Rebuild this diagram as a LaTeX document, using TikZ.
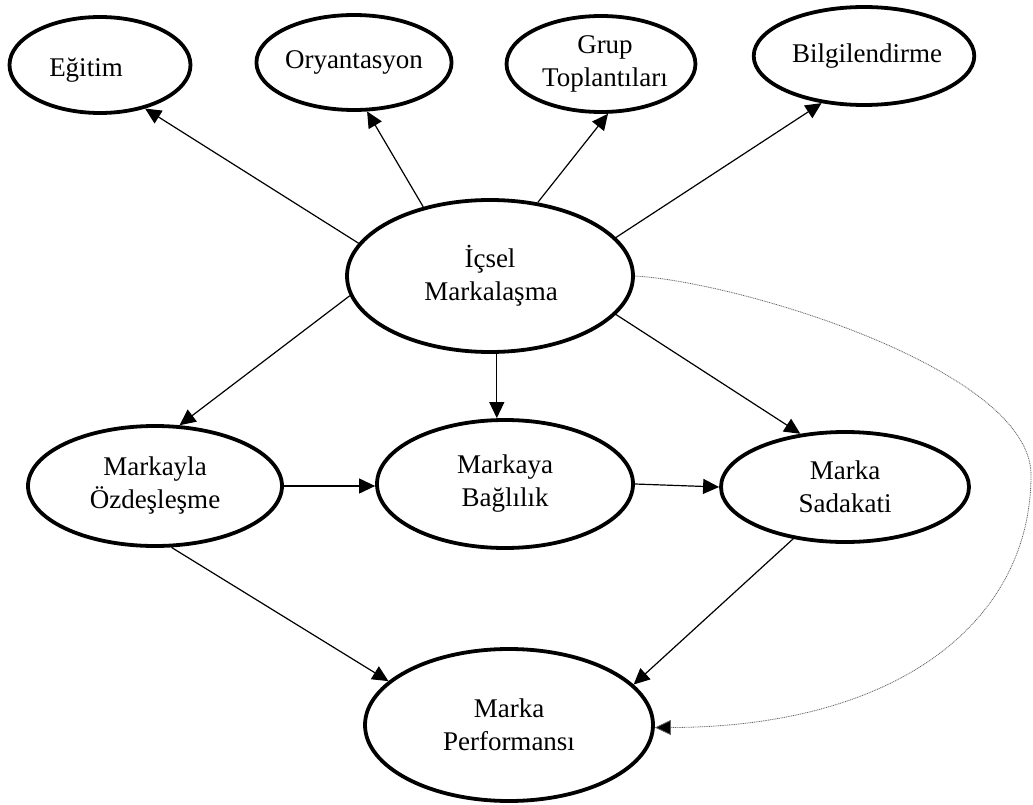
\documentclass[tikz,border=0pt]{standalone}
\usepackage{fontspec}
\setmainfont{Liberation Serif}
\usetikzlibrary{shapes.geometric,arrows.meta}
\begin{document}
\begin{tikzpicture}[x=1pt,y=-1pt,
  concept/.style={ellipse,draw,line width=3.8pt,inner sep=0pt,align=center,
    font=\fontsize{27}{33}\selectfont},
  link/.style={line width=1.2pt,-{Triangle[length=16pt,width=15pt]}},
  feedback/.style={line width=0.8pt,draw=black!60,dash pattern=on 1pt off 0.8pt,
    -{Triangle[length=16pt,width=15pt,fill=black]}}]
\useasboundingbox (0,0) rectangle (1033,805);

% top row: internal branding activities
\node[concept,minimum width=181pt,minimum height=96pt] (egitim) at (100,65) {\smash{\raisebox{-12pt}{Eğitim}}\hspace*{28pt}};
\node[concept,minimum width=178pt,minimum height=95pt] (oryan) at (354,62.5) {Oryantasyon};
\node[concept,minimum width=180pt,minimum height=96pt] (grup) at (601,64) {\hspace*{8pt}Grup\\\hspace*{8pt}Toplantıları};
\node[concept,minimum width=180pt,minimum height=98pt] (bilg) at (864,56) {\hspace*{6pt}Bilgilendirme};

% central construct
\node[concept,minimum width=286pt,minimum height=152pt] (icsel) at (490,276) {İçsel\\Markalaşma\hspace*{-2pt}};

% outcomes
\node[concept,minimum width=254pt,minimum height=120pt] (ozd) at (155,486) {Markayla\\Özdeşleşme};
\node[concept,minimum width=256pt,minimum height=128pt] (bag) at (505,484) {Markaya\\Bağlılık};
\node[concept,minimum width=248pt,minimum height=110pt] (sad) at (845,487) {Marka\\Sadakati};
\node[concept,minimum width=288pt,minimum height=152pt] (perf) at (509,725) {Marka\\Performansı};

% arrows to the activities
\draw[link] (icsel.166) -- (egitim.-44);
\draw[link] (icsel.134) -- (oryan.-75);
\draw[link] (icsel.57) -- (grup.-82);
\draw[link] (icsel.17) -- (bilg.228);

% arrows to the outcomes
\draw[link] (icsel.188) -- (ozd.68);
\draw[link] (icsel.-85) -- (icsel.-85 |- bag.north);
\draw[link] (icsel.-17) -- (sad.130);
\draw[link] (ozd.east) -- (ozd.east -| bag.west);
\draw[link] (bag.east) -- (sad.west);
\draw[link] (ozd.-75) -- (perf.160);
\draw[link] (sad.225) -- (perf.18);

% direct effect on performance
\coordinate (loop) at (1031,475);
\draw[feedback] (icsel.0) .. controls (740,282) and (1031,370) .. (loop)
  .. controls (1031,620) and (900,727) .. (perf.-1);
\end{tikzpicture}
\end{document}
